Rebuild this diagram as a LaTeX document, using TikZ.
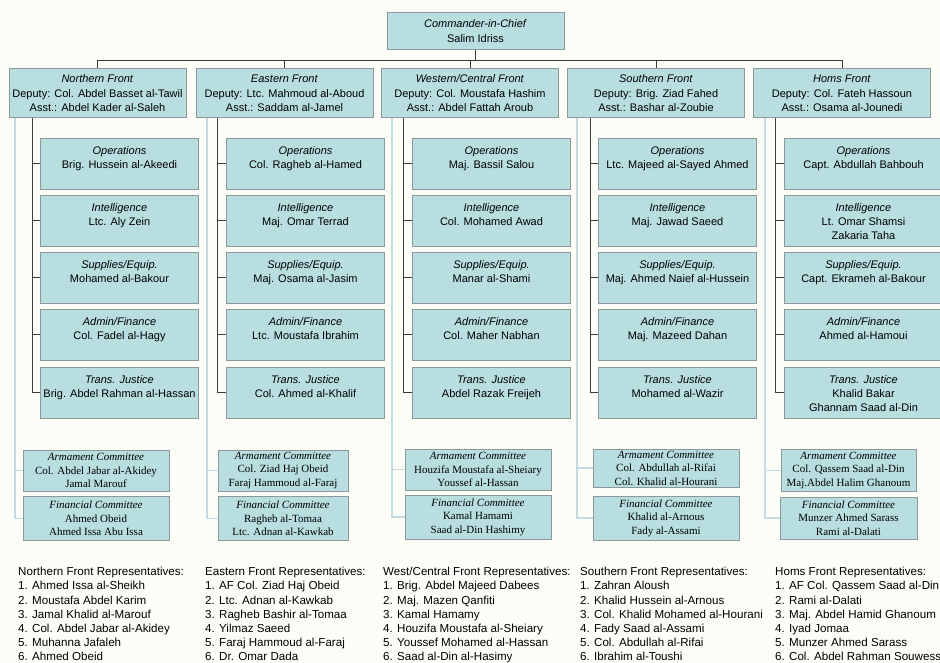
\documentclass[tikz,border=0pt]{standalone}
\usepackage{fontspec}
\setmainfont{Liberation Sans}
\newfontfamily\cmtefont{Liberation Serif}
\usetikzlibrary{positioning}
\definecolor{paper}{RGB}{253,253,248}
\definecolor{boxfill}{RGB}{184,222,224}
\definecolor{boxline}{RGB}{140,152,154}
\definecolor{wirecol}{RGB}{60,60,60}
\definecolor{litecol}{RGB}{196,220,225}
\tikzset{cinc/.style={draw=boxline,fill=boxfill,line width=1,minimum width=177,minimum height=37,inner sep=0,align=center,font=\fontsize{11}{15}\selectfont},
front/.style={draw=boxline,fill=boxfill,line width=1,minimum width=177,minimum height=49,inner sep=0,align=center,font=\fontsize{11}{14.5}\selectfont},
unit/.style={draw=boxline,fill=boxfill,line width=1,minimum width=158,inner xsep=0,inner ysep=0,text height=30,text depth=21,anchor=north west,align=center,font=\fontsize{11}{14}\selectfont},
unitiii/.style={unit,text height=44,text depth=7},
cmte/.style={draw=boxline,fill=boxfill,line width=1,inner sep=0,align=center,font=\cmtefont\fontsize{11}{13.5}\selectfont},
reps/.style={inner sep=0,anchor=north west,align=left,font=\fontsize{11.6}{14.2}\selectfont},
wire/.style={draw=wirecol,line width=0.9},
litewire/.style={draw=litecol,line width=1.6}}
\begin{document}
\begin{tikzpicture}[x=1pt,y=-1pt]
\fill[paper] (0,0) rectangle (940,663);
\useasboundingbox (0,0) rectangle (940,663);

\node[cinc] (cic) at (475.5,31.5) {\textit{Commander-in-Chief}\\Salim Idriss};

\node[front] (nf) at (97.5,93.5) {\textit{Northern Front}\\Deputy: Col. Abdel Basset al-Tawil\\Asst.: Abdel Kader al-Saleh};
\node[front] (ef) at (284.5,93.5) {\textit{Eastern Front}\\Deputy: Ltc. Mahmoud al-Aboud\\Asst.: Saddam al-Jamel};
\node[front] (wf) at (470,93.5) {\textit{Western/Central Front}\\Deputy: Col. Moustafa Hashim\\Asst.: Abdel Fattah Aroub};
\node[front] (sf) at (656,93.5) {\textit{Southern Front}\\Deputy: Brig. Ziad Fahed\\Asst.: Bashar al-Zoubie};
\node[front] (hf) at (842,93.5) {\textit{Homs Front}\\Deputy: Col. Fateh Hassoun\\Asst.: Osama al-Jounedi};

\coordinate (bar) at (475.5,60);
\draw[wire] (cic.south) -- (bar);
\draw[wire] (bar) -| (nf.north);
\draw[wire] (bar) -| (ef.north);
\draw[wire] (bar) -| (wf.north);
\draw[wire] (bar) -| (sf.north);
\draw[wire] (bar) -| (hf.north);

% Northern Front
\node[unit] (n1) at (40,138) {\textit{Operations}\\Brig. Hussein al-Akeedi};
\node[unit] (n2) at (40,195) {\textit{Intelligence}\\Ltc. Aly Zein};
\node[unit] (n3) at (40,252) {\textit{Supplies/Equip.}\\Mohamed al-Bakour};
\node[unit] (n4) at (40,309) {\textit{Admin/Finance}\\Col. Fadel al-Hagy};
\node[unit] (n5) at (40,367) {\textit{Trans. Justice}\\Brig. Abdel Rahman al-Hassan};
\node[cmte,minimum width=146,minimum height=41] (narm) at (96,470.5) {\textit{Armament Committee}\\Col. Abdel Jabar al-Akidey\\Jamal Marouf};
\node[cmte,minimum width=146,minimum height=44] (nfin) at (96,518.5) {\textit{Financial Committee}\\Ahmed Obeid\\Ahmed Issa Abu Issa};

% Eastern Front
\node[unit] (e1) at (226,138) {\textit{Operations}\\Col. Ragheb al-Hamed};
\node[unit] (e2) at (226,195) {\textit{Intelligence}\\Maj. Omar Terrad};
\node[unit] (e3) at (226,252) {\textit{Supplies/Equip.}\\Maj. Osama al-Jasim};
\node[unit] (e4) at (226,309) {\textit{Admin/Finance}\\Ltc. Moustafa Ibrahim};
\node[unit] (e5) at (226,367) {\textit{Trans. Justice}\\Col. Ahmed al-Khalif};
\node[cmte,minimum width=130,minimum height=41] (earm) at (283,470.5) {\textit{Armament Committee}\\Col. Ziad Haj Obeid\\Faraj Hammoud al-Faraj};
\node[cmte,minimum width=130,minimum height=44] (efin) at (283,518.5) {\textit{Financial Committee}\\Ragheb al-Tomaa\\Ltc. Adnan al-Kawkab};

% Western/Central Front
\node[unit] (w1) at (412,138) {\textit{Operations}\\Maj. Bassil Salou};
\node[unit] (w2) at (412,195) {\textit{Intelligence}\\Col. Mohamed Awad};
\node[unit] (w3) at (412,252) {\textit{Supplies/Equip.}\\Manar al-Shami};
\node[unit] (w4) at (412,309) {\textit{Admin/Finance}\\Col. Maher Nabhan};
\node[unit] (w5) at (412,367) {\textit{Trans. Justice}\\Abdel Razak Freijeh};
\node[cmte,minimum width=146,minimum height=41] (warm) at (478,469.5) {\textit{Armament Committee}\\Houzifa Moustafa al-Sheiary\\Youssef al-Hassan};
\node[cmte,minimum width=146,minimum height=44] (wfin) at (478,517) {\textit{Financial Committee}\\Kamal Hamami\\Saad al-Din Hashimy};

% Southern Front
\node[unit] (s1) at (598,138) {\textit{Operations}\\Ltc. Majeed al-Sayed Ahmed};
\node[unit] (s2) at (598,195) {\textit{Intelligence}\\Maj. Jawad Saeed};
\node[unit] (s3) at (598,252) {\textit{Supplies/Equip.}\\Maj. Ahmed Naief al-Hussein};
\node[unit] (s4) at (598,309) {\textit{Admin/Finance}\\Maj. Mazeed Dahan};
\node[unit] (s5) at (598,367) {\textit{Trans. Justice}\\Mohamed al-Wazir};
\node[cmte,minimum width=146,minimum height=38] (sarm) at (666,468) {\textit{Armament Committee}\\Col. Abdullah al-Rifai\\Col. Khalid al-Hourani};
\node[cmte,minimum width=146,minimum height=44] (sfin) at (666,518) {\textit{Financial Committee}\\Khalid al-Arnous\\Fady al-Assami};

% Homs Front
\node[unit] (h1) at (784,138) {\textit{Operations}\\Capt. Abdullah Bahbouh};
\node[unitiii] (h2) at (784,195) {\textit{Intelligence}\\Lt. Omar Shamsi\\Zakaria Taha};
\node[unit] (h3) at (784,252) {\textit{Supplies/Equip.}\\Capt. Ekrameh al-Bakour};
\node[unit] (h4) at (784,309) {\textit{Admin/Finance}\\Ahmed al-Hamoui};
\node[unitiii] (h5) at (784,367) {\textit{Trans. Justice}\\Khalid Bakar\\Ghannam Saad al-Din};
\node[cmte,minimum width=135,minimum height=42] (harm) at (848.5,470.5) {\textit{Armament Committee}\\Col. Qassem Saad al-Din\\Maj.Abdel Halim Ghanoum};
\node[cmte,minimum width=137,minimum height=42] (hfin) at (848.5,518) {\textit{Financial Committee}\\Munzer Ahmed Sarass\\Rami al-Dalati};

% connectors inside the fronts
\coordinate (nd) at (32,118);  \coordinate (nl) at (15,118);
\coordinate (ed) at (217,118); \coordinate (el) at (207,118);
\coordinate (wd) at (403,118); \coordinate (wl) at (392,118);
\coordinate (sd) at (590,118); \coordinate (sl) at (577,118);
\coordinate (hd) at (775,118); \coordinate (hl) at (765,118);

\draw[litewire] (nl) |- (nfin.west);
\draw[litewire] (narm.west) -- (narm.west -| nl);
\draw[litewire] (el) |- (efin.west);
\draw[litewire] (earm.west) -- (earm.west -| el);
\draw[litewire] (wl) |- (wfin.west);
\draw[litewire] (warm.west) -- (warm.west -| wl);
\draw[litewire] (sl) |- (sfin.west);
\draw[litewire] (sarm.west) -- (sarm.west -| sl);
\draw[litewire] (hl) |- (hfin.west);
\draw[litewire] (harm.west) -- (harm.west -| hl);

\draw[wire] (nd) |- ([yshift=-25.5]n5.north west);
\draw[wire] (ed) |- ([yshift=-25.5]e5.north west);
\draw[wire] (wd) |- ([yshift=-25.5]w5.north west);
\draw[wire] (sd) |- ([yshift=-25.5]s5.north west);
\draw[wire] (hd) |- ([yshift=-25.5]h5.north west);
\foreach \f in {n,e,w,s,h}
  \foreach \i in {1,2,3,4}
    \draw[wire] ([yshift=-25.5]\f\i.north west) -- ([yshift=-25.5]\f\i.north west -| \f d);

% representatives
\node[reps] (nrep) at (18,567) {Northern Front Representatives:\\1. Ahmed Issa al-Sheikh\\2. Moustafa Abdel Karim\\3. Jamal Khalid al-Marouf\\4. Col. Abdel Jabar al-Akidey\\5. Muhanna Jafaleh\\6. Ahmed Obeid};
\node[reps] (erep) at (205,567) {Eastern Front Representatives:\\1. AF Col. Ziad Haj Obeid\\2. Ltc. Adnan al-Kawkab\\3. Ragheb Bashir al-Tomaa\\4. Yilmaz Saeed\\5. Faraj Hammoud al-Faraj\\6. Dr. Omar Dada};
\node[reps] (wrep) at (383,567) {West/Central Front Representatives:\\1. Brig. Abdel Majeed Dabees\\2. Maj. Mazen Qanfiti\\3. Kamal Hamamy\\4. Houzifa Moustafa al-Sheiary\\5. Youssef Mohamed al-Hassan\\6. Saad al-Din al-Hasimy};
\node[reps] (srep) at (580,567) {Southern Front Representatives:\\1. Zahran Aloush\\2. Khalid Hussein al-Arnous\\3. Col. Khalid Mohamed al-Hourani\\4. Fady Saad al-Assami\\5. Col. Abdullah al-Rifai\\6. Ibrahim al-Toushi};
\node[reps] (hrep) at (775,567) {Homs Front Representatives:\\1. AF Col. Qassem Saad al-Din\\2. Rami al-Dalati\\3. Maj. Abdel Hamid Ghanoum\\4. Iyad Jomaa\\5. Munzer Ahmed Sarass\\6. Col. Abdel Rahman Souwess};
\end{tikzpicture}
\end{document}
